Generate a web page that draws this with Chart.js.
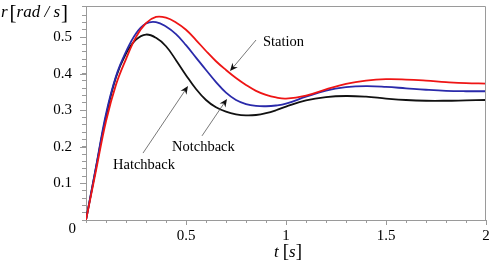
<!DOCTYPE html>
<html>
<head>
<meta charset="utf-8">
<script src="https://cdn.jsdelivr.net/npm/chart.js@4.4.1/dist/chart.umd.min.js"></script>
<style>
  body { margin: 0; background: #fff; }
  #wrap { width: 496px; height: 262px; }
</style>
</head>
<body>
<div id="wrap"><canvas id="rateChart" width="496" height="262"></canvas></div>
<script>
// ✅ Values (yaw rate r in rad/s against time t in s)
const times = [0, 0.05, 0.1, 0.15, 0.2, 0.25, 0.3, 0.35, 0.4, 0.45, 0.5, 0.55, 0.6, 0.65, 0.7, 0.75, 0.8, 0.85, 0.9, 0.95, 1.0, 1.1, 1.2, 1.3, 1.4, 1.5, 1.6, 1.7, 1.8, 1.9, 2.0];
const station = [0, 0.135, 0.27, 0.37, 0.44, 0.50, 0.538, 0.555, 0.553, 0.54, 0.52, 0.492, 0.462, 0.434, 0.41, 0.388, 0.369, 0.353, 0.342, 0.335, 0.332, 0.34, 0.357, 0.372, 0.381, 0.385, 0.384, 0.381, 0.377, 0.374, 0.373];
const notchback = [0, 0.145, 0.29, 0.393, 0.46, 0.51, 0.537, 0.541, 0.529, 0.508, 0.478, 0.444, 0.41, 0.377, 0.348, 0.328, 0.317, 0.312, 0.311, 0.313, 0.318, 0.337, 0.354, 0.363, 0.366, 0.364, 0.36, 0.356, 0.353, 0.352, 0.352];
const hatchback = [0, 0.143, 0.283, 0.39, 0.455, 0.493, 0.507, 0.498, 0.475, 0.437, 0.396, 0.358, 0.328, 0.308, 0.296, 0.289, 0.286, 0.287, 0.292, 0.3, 0.31, 0.327, 0.336, 0.339, 0.337, 0.332, 0.328, 0.326, 0.326, 0.327, 0.328];

const xTickLabels = ["0.5", "1", "1.5", "2"];
const yTickLabels = ["0.1", "0.2", "0.3", "0.4", "0.5"];
const originLabel = "0";

// ✅ Callouts in data units: label position, arrow start, arrow tip
const callouts = [
  { text: "Station",   at: [0.885, 0.486], from: [0.85, 0.492], to: [0.72, 0.407] },
  { text: "Notchback", at: [0.43, 0.20],   from: [0.58, 0.23],  to: [0.705, 0.331] },
  { text: "Hatchback", at: [0.135, 0.15],  from: [0.285, 0.183], to: [0.51, 0.366] }
];

const FAMILY = '"Liberation Serif", "Times New Roman", serif';
const AXIS_GREY = "#9a9a9a";

function toPoints(values) {
  return values.map((v, i) => ({ x: times[i], y: v }));
}

function pickLabel(list, value) {
  let hit = list.find((s) => Math.abs(parseFloat(s) - value) < 1e-6);
  return hit === undefined ? "" : hit;
}

function drawArrow(ctx, x1, y1, x2, y2) {
  let ang = Math.atan2(y2 - y1, x2 - x1);
  ctx.save();
  ctx.strokeStyle = "#555";
  ctx.lineWidth = 0.8;
  ctx.beginPath();
  ctx.moveTo(x1, y1);
  ctx.lineTo(x2 - 5 * Math.cos(ang), y2 - 5 * Math.sin(ang));
  ctx.stroke();
  // barbed head
  ctx.translate(x2, y2);
  ctx.rotate(ang);
  ctx.fillStyle = "#111";
  ctx.beginPath();
  ctx.moveTo(0, 0);
  ctx.lineTo(-8, -3.5);
  ctx.lineTo(-5.5, 0);
  ctx.lineTo(-8, 3.5);
  ctx.closePath();
  ctx.fill();
  ctx.restore();
}

// ✅ Frame, axis titles, origin label and callouts
const decorations = {
  id: "decorations",
  afterDraw(chart) {
    const ctx = chart.ctx;
    const area = chart.chartArea;
    const xs = chart.scales.x;
    const ys = chart.scales.y;

    ctx.save();
    ctx.strokeStyle = AXIS_GREY;
    ctx.lineWidth = 1;
    ctx.beginPath();
    ctx.moveTo(area.left, area.top + 0.5);
    ctx.lineTo(area.right - 0.5, area.top + 0.5);
    ctx.lineTo(area.right - 0.5, area.bottom);
    ctx.stroke();

    // longer marks at the labelled ticks
    ctx.beginPath();
    yTickLabels.forEach((s) => {
      let py = Math.round(ys.getPixelForValue(parseFloat(s))) + 0.5;
      ctx.moveTo(area.left - 6, py);
      ctx.lineTo(area.left, py);
    });
    xTickLabels.forEach((s) => {
      let px = Math.round(xs.getPixelForValue(parseFloat(s))) + 0.5;
      ctx.moveTo(px, area.bottom);
      ctx.lineTo(px, area.bottom + 5);
    });
    ctx.stroke();

    ctx.fillStyle = "#000";
    ctx.textBaseline = "alphabetic";

    // y title: r [rad / s]
    let x = 1;
    ctx.font = "italic 17px " + FAMILY;
    ctx.fillText("r", x, 17);
    x += ctx.measureText("r").width + 2;
    ctx.font = "21px " + FAMILY;
    ctx.fillText("[", x, 19);
    x += ctx.measureText("[").width;
    ctx.font = "italic 17px " + FAMILY;
    ctx.fillText("rad / s", x, 17);
    x += ctx.measureText("rad / s").width + 1;
    ctx.font = "21px " + FAMILY;
    ctx.fillText("]", x, 19);

    // x title: t [s]
    x = 274;
    ctx.font = "italic 17px " + FAMILY;
    ctx.fillText("t", x, 257);
    x += ctx.measureText("t").width + 4;
    ctx.font = "19px " + FAMILY;
    ctx.fillText("[", x, 257);
    x += ctx.measureText("[").width;
    ctx.font = "italic 17px " + FAMILY;
    ctx.fillText("s", x, 257);
    x += ctx.measureText("s").width;
    ctx.font = "19px " + FAMILY;
    ctx.fillText("]", x, 257);

    // shared origin label
    ctx.font = "15px " + FAMILY;
    ctx.textAlign = "right";
    ctx.textBaseline = "middle";
    ctx.fillText(originLabel, area.left - 10, area.bottom + 9);

    // callouts
    ctx.textAlign = "left";
    ctx.font = "14.5px " + FAMILY;
    callouts.forEach((c) => {
      ctx.fillText(c.text, xs.getPixelForValue(c.at[0]), ys.getPixelForValue(c.at[1]));
      drawArrow(ctx,
        xs.getPixelForValue(c.from[0]), ys.getPixelForValue(c.from[1]),
        xs.getPixelForValue(c.to[0]), ys.getPixelForValue(c.to[1]));
    });
    ctx.restore();
  }
};

const ctx = document.getElementById("rateChart").getContext("2d");

new Chart(ctx, {
  type: "line",
  data: {
    datasets: [
      { label: "Station", data: toPoints(station), borderColor: "#ee1515", borderWidth: 1.8, pointRadius: 0, tension: 0.4, fill: false },
      { label: "Notchback", data: toPoints(notchback), borderColor: "#2a2aaa", borderWidth: 1.8, pointRadius: 0, tension: 0.4, fill: false },
      { label: "Hatchback", data: toPoints(hatchback), borderColor: "#111111", borderWidth: 1.8, pointRadius: 0, tension: 0.4, fill: false }
    ]
  },
  options: {
    responsive: false,
    animation: false,
    layout: { padding: { top: 6, right: 10, left: 0, bottom: 0 } },
    plugins: { legend: { display: false }, tooltip: { enabled: false } },
    scales: {
      x: {
        type: "linear",
        min: 0,
        max: 2,
        afterFit: (scale) => {
          scale.height = 42;
          scale.paddingLeft = 0;
          scale.paddingRight = 0;
        },
        border: { color: AXIS_GREY },
        grid: { drawOnChartArea: false, tickLength: 3, color: AXIS_GREY },
        ticks: {
          stepSize: 0.1,
          autoSkip: false,
          maxRotation: 0,
          padding: 4,
          color: "#000",
          font: { family: FAMILY, size: 15 },
          callback: (v) => pickLabel(xTickLabels, v)
        }
      },
      y: {
        type: "linear",
        min: 0,
        max: 0.585,
        afterFit: (scale) => {
          scale.width = 86;
          scale.paddingTop = 0;
          scale.paddingBottom = 0;
        },
        border: { color: AXIS_GREY },
        grid: { drawOnChartArea: false, tickLength: 4, color: AXIS_GREY },
        ticks: {
          stepSize: 0.02,
          autoSkip: false,
          padding: 10,
          color: "#000",
          font: { family: FAMILY, size: 15 },
          callback: (v) => pickLabel(yTickLabels, v)
        }
      }
    }
  },
  plugins: [decorations]
});
</script>
</body>
</html>
